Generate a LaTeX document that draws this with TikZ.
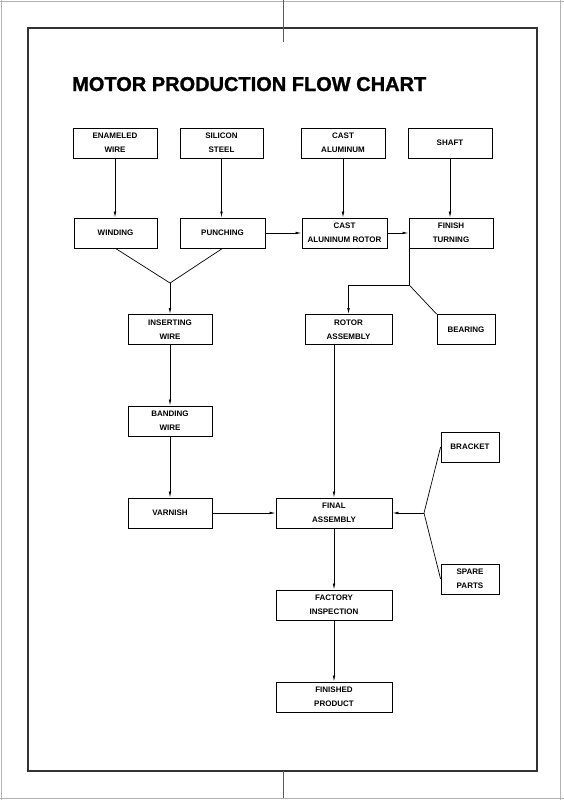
\documentclass[tikz,border=0pt]{standalone}
\usepackage{fontspec}
\setmainfont{Liberation Sans}
\newfontfamily\titlefont[FakeBold=1.2]{Liberation Sans Bold}
\usetikzlibrary{arrows.meta}
\begin{document}
\begin{tikzpicture}[x=1pt,y=-1pt,
  box/.style={draw=black, line width=0.8pt, minimum height=30pt, minimum width=#1,
    inner sep=0pt, align=center, font=\fontsize{8}{14}\selectfont\bfseries},
  box/.default=84pt,
  conn/.style={line width=0.7pt, draw=black},
  arr/.style={conn, -{Latex[length=6pt,width=2.6pt]}},
  frameline/.style={draw=gray!60, line width=0.8pt}]
\useasboundingbox (0,0) rectangle (564,800);
% page frames
\draw[frameline] (0,1) -- (564,1);
\draw[frameline] (0,798) -- (564,798);
\draw[frameline] (1,0) -- (1,800);
\draw[frameline] (560,0) -- (560,800);
\draw[line width=1.3pt, draw=black!80] (28,28) rectangle (537,771);
\draw[line width=1pt, draw=black!65] (283,0) -- (283,42);
\draw[line width=1pt, draw=black!65] (283,771) -- (283,798);
% title
\node[anchor=base west, inner sep=0pt, font=\titlefont\fontsize{20}{24}\selectfont] (title) at (72,91) {MOTOR PRODUCTION FLOW CHART};
% nodes
\node[box] (enam) at (115,143) {ENAMELED\\WIRE};
\node[box=83pt] (sil) at (221.5,143) {SILICON\\STEEL};
\node[box] (cast) at (343,143) {CAST\\ALUMINUM};
\node[box] (shaft) at (450,143) {SHAFT};
\node[box=83pt] (wind) at (115.5,233) {WINDING};
\node[box=85pt] (punch) at (222.5,233) {PUNCHING};
\node[box=85pt] (castrot) at (344.5,233) {CAST\\ALUNINUM ROTOR};
\node[box] (finish) at (451,233) {FINISH\\TURNING};
\node[box] (insert) at (170,329.5) {INSERTING\\WIRE};
\node[box=87pt] (rotor) at (348.5,329.5) {ROTOR\\ASSEMBLY};
\node[box=58pt] (bearing) at (466,329.5) {BEARING};
\node[box] (banding) at (170,421) {BANDING\\WIRE};
\node[box] (varnish) at (170,513) {VARNISH};
\node[box=116pt] (final) at (334,513) {FINAL\\ASSEMBLY};
\node[box=58pt] (bracket) at (470,447) {BRACKET};
\node[box=58pt] (spare) at (470,579) {SPARE\\PARTS};
\node[box=116pt] (factory) at (334,605) {FACTORY\\INSPECTION};
\node[box=116pt] (finished) at (334,697) {FINISHED\\PRODUCT};
% junctions
\coordinate (j1) at (170,283);
\coordinate (j2) at ([xshift=0.6pt]finish.south west |- 0,285);
\coordinate (j3) at (424,513);
% connectors
\draw[arr] (enam.south) -- (enam.south |- wind.north);
\draw[arr] (sil.south) -- (sil.south |- punch.north);
\draw[arr] (cast.south) -- (cast.south |- castrot.north);
\draw[arr] (shaft.south) -- (shaft.south |- finish.north);
\draw[arr] (punch.east) -- (castrot.west);
\draw[arr] (castrot.east) -- (finish.west);
\draw[conn] (wind.south) -- (j1) -- (punch.south);
\draw[arr] (j1) -- (insert.north);
\draw[conn] (j2 |- finish.south) -- (j2);
\draw[arr] (j2) -| (rotor.north);
\draw[conn] (j2) -- (bearing.north west);
\draw[arr] (insert.south) -- (banding.north);
\draw[arr] (rotor.south -| final.north) -- (final.north);
\draw[arr] (banding.south) -- (varnish.north);
\draw[arr] (varnish.east) -- (final.west);
\draw[conn] (bracket.west) -- (j3) -- (spare.west);
\draw[arr] (j3) -- (final.east);
\draw[arr] (final.south) -- (factory.north);
\draw[arr] (factory.south) -- (finished.north);
\end{tikzpicture}
\end{document}
